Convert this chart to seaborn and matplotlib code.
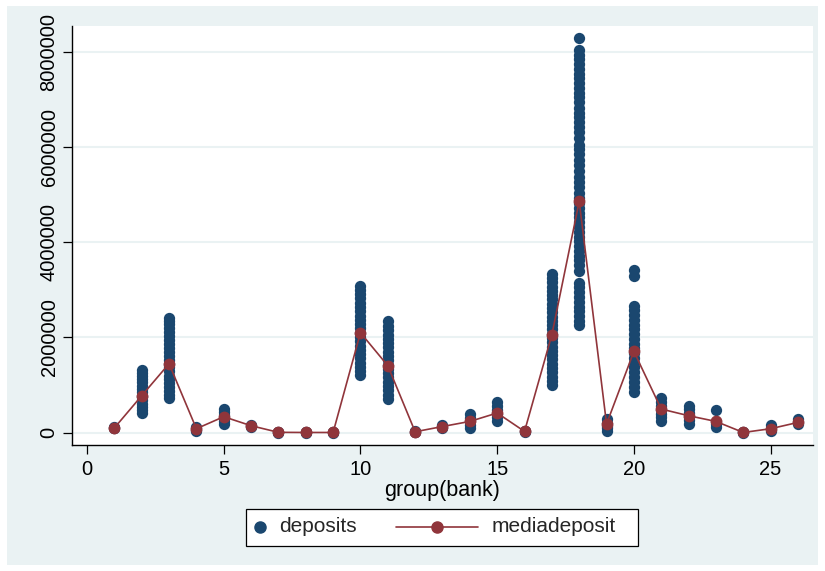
import matplotlib

matplotlib.use("Agg")

import matplotlib.pyplot as plt
import pandas as pd
import seaborn as sns
from matplotlib.lines import Line2D
from matplotlib.patches import Rectangle

banks = list(range(1, 27))
deposits = [
    [90000, 105000, 115000],
    [420000, 480000, 550000, 610000, 680000, 740000, 780000, 850000, 920000, 990000,
     1060000, 1130000, 1200000, 1260000, 1323000],
    [735000, 800000, 880000, 960000, 1040000, 1120000, 1200000, 1290000, 1370000, 1450000,
     1530000, 1610000, 1700000, 1780000, 1860000, 1950000, 2030000, 2110000, 2200000,
     2290000, 2350000, 2415000],
    [30000, 60000, 90000, 130000],
    [189000, 250000, 310000, 370000, 430000, 504000],
    [110000, 140000, 160000],
    [2000, 8000, 15000],
    [1000, 5000, 9000],
    [1000, 5000, 8000],
    [1207000, 1290000, 1380000, 1470000, 1560000, 1650000, 1740000, 1830000, 1920000,
     2010000, 2100000, 2190000, 2280000, 2370000, 2460000, 2550000, 2640000, 2730000,
     2820000, 2910000, 3000000, 3087000],
    [714000, 800000, 890000, 980000, 1070000, 1160000, 1250000, 1340000, 1430000, 1520000,
     1610000, 1700000, 1790000, 1880000, 1970000, 2060000, 2150000, 2250000, 2352000],
    [5000, 20000, 40000],
    [90000, 120000, 160000],
    [105000, 170000, 240000, 310000, 388000],
    [241000, 320000, 400000, 480000, 560000, 651000],
    [10000, 27000, 45000],
    [997000, 1090000, 1180000, 1270000, 1360000, 1450000, 1540000, 1630000, 1720000,
     1810000, 1900000, 1990000, 2080000, 2170000, 2260000, 2350000, 2440000, 2530000,
     2620000, 2710000, 2800000, 2890000, 2980000, 3070000, 3160000, 3250000, 3328000],
    [8283000, 8040000, 7940000, 7840000, 7740000, 7640000, 7540000, 7440000, 7340000,
     7240000, 7140000, 7040000, 6950000, 6820000, 6720000, 6620000, 6520000, 6420000,
     6320000, 6190000, 6050000, 5950000, 5850000, 5730000, 5620000, 5500000, 5370000,
     5260000, 5150000, 5040000, 4920000, 4820000, 4720000, 4620000, 4520000, 4420000,
     4320000, 4220000, 4120000, 4020000, 3920000, 3820000, 3720000, 3620000, 3520000,
     3400000, 3150000, 3050000, 2950000, 2850000, 2750000, 2650000, 2550000, 2450000,
     2350000, 2260000],
    [31000, 90000, 150000, 210000, 283000],
    [3412000, 3300000, 2667000, 2570000, 2470000, 2370000, 2270000, 2170000, 2070000,
     1970000, 1870000, 1770000, 1670000, 1570000, 1470000, 1370000, 1270000, 1170000,
     1070000, 970000, 861000],
    [241000, 320000, 400000, 480000, 560000, 640000, 735000],
    [178000, 260000, 340000, 420000, 500000, 567000],
    [126000, 180000, 230000, 480000],
    [1000, 5000, 10000],
    [30000, 90000, 168000],
    [178000, 230000, 294000],
]
median_deposit = [100000, 777000, 1449000, 84000, 336000, 147000, 8000, 5000, 5000,
                  2100000, 1407000, 20000, 130000, 237000, 414000, 27000, 2058000,
                  4857000, 183000, 1707000, 497000, 357000, 237000, 5000, 84000, 216000]

x_ticks = [0, 5, 10, 15, 20, 25]
y_ticks = [0, 2000000, 4000000, 6000000, 8000000]

NAVY = "#1a476f"
MAROON = "#90353b"
BG = "#eaf2f3"

points = pd.DataFrame(
    [(b, v) for b, vals in zip(banks, deposits) for v in vals],
    columns=["bank", "deposits"],
)
medians = pd.DataFrame({"bank": banks, "mediadeposit": median_deposit})

sns.set_theme(style="white")
plt.rcParams["font.family"] = ["Liberation Sans", "DejaVu Sans"]

fig = plt.figure(figsize=(8.25, 5.71), dpi=100, facecolor="white")
fig.patches.append(
    Rectangle((7 / 825, 6 / 571), 811 / 825, 559 / 571, transform=fig.transFigure,
              facecolor=BG, edgecolor="none", zorder=-10)
)
ax = fig.add_axes([71.7 / 825, 1 - 445 / 571, 741.3 / 825, 419 / 571])
ax.set_facecolor("white")

sns.scatterplot(points, x="bank", y="deposits", color=NAVY, s=66, linewidth=0,
                legend=False, ax=ax, zorder=3)
sns.lineplot(medians, x="bank", y="mediadeposit", color=MAROON, linewidth=1.2,
             marker="o", markersize=8.5, markeredgewidth=0, legend=False, ax=ax, zorder=4)

ax.set_xlim(-0.56, 26.55)
ax.set_ylim(-258000, 8540000)
ax.set_xticks(x_ticks)
ax.set_yticks(y_ticks)
ax.set_yticklabels([str(v) for v in y_ticks], rotation=90, va="center")
ax.tick_params(axis="both", which="major", direction="out", length=6.5, width=0.9,
               color="black", labelsize=14.5, colors="black", bottom=True, left=True)
ax.tick_params(axis="y", pad=3)
ax.tick_params(axis="x", pad=4)
ax.grid(axis="y", color=BG, linewidth=1.5)
ax.grid(axis="x", visible=False)
for side in ["top", "right"]:
    ax.spines[side].set_visible(False)
for side in ["left", "bottom"]:
    ax.spines[side].set_color("black")
    ax.spines[side].set_linewidth(1.0)
ax.set_xlabel("group(bank)", fontsize=15.5, color="black", labelpad=1)
ax.set_ylabel("")

# legend drawn in figure pixels, Stata style
def fx(px):
    return px / 825


def fy(py):
    return 1 - py / 571


fig.patches.append(
    Rectangle((fx(246), fy(546)), fx(392), 37 / 571, transform=fig.transFigure,
              facecolor="white", edgecolor="black", linewidth=0.9, zorder=5)
)
fig.lines.append(Line2D([fx(260)], [fy(527)], transform=fig.transFigure, marker="o",
                        markersize=8, color=NAVY, linestyle="none", zorder=6))
fig.text(fx(279), fy(527), "deposits", fontsize=15, va="center", ha="left", zorder=6)
fig.lines.append(Line2D([fx(396), fx(478)], [fy(527), fy(527)], transform=fig.transFigure,
                        color=MAROON, linewidth=1.2, zorder=6))
fig.lines.append(Line2D([fx(437)], [fy(527)], transform=fig.transFigure, marker="o",
                        markersize=8, color=MAROON, linestyle="none", zorder=6))
fig.text(fx(492), fy(527), "mediadeposit", fontsize=15, va="center", ha="left", zorder=6)

fig.savefig("out.png", dpi=100, facecolor=fig.get_facecolor())
